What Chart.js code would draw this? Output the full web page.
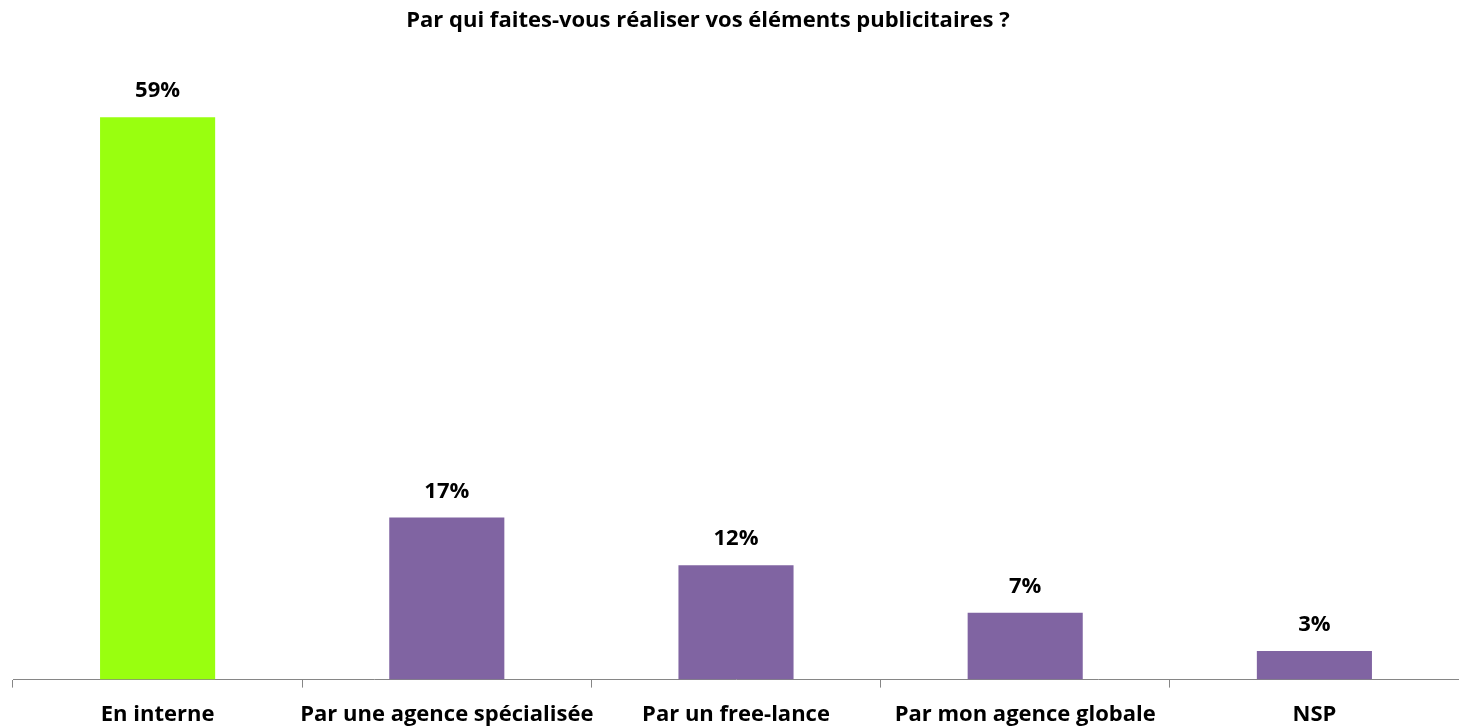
<!DOCTYPE html>
<html>
<head>
<meta charset="utf-8">
<script src="https://cdn.jsdelivr.net/npm/chart.js@4/dist/chart.umd.min.js"></script>
<style>
  html, body { margin: 0; padding: 0; background: #fff; }
  #wrap { width: 1459px; height: 727px; }
</style>
</head>
<body>
<div id="wrap"><canvas id="myChart"></canvas></div>
<script>
const titleText = "Par qui faites-vous réaliser vos éléments publicitaires ?";
const categories = ["En interne", "Par une agence spécialisée", "Par un free-lance", "Par mon agence globale", "NSP"];
const values = [59, 17, 12, 7, 3];
const barColors = ["#99FF0F", "#8064A2", "#8064A2", "#8064A2", "#8064A2"];

// titre (légèrement décalé à gauche comme dans l'original)
const topTitle = {
  id: "topTitle",
  afterDraw(chart) {
    const ctx = chart.ctx;
    ctx.save();
    ctx.font = "bold 22px 'Open Sans'";
    ctx.fillStyle = "#000";
    ctx.textAlign = "center";
    ctx.textBaseline = "alphabetic";
    ctx.fillText(titleText, 708, 27);
    ctx.restore();
  }
};

// étiquettes de valeur au-dessus des barres
const valueLabels = {
  id: "valueLabels",
  afterDatasetsDraw(chart) {
    const ctx = chart.ctx;
    const meta = chart.getDatasetMeta(0);
    ctx.save();
    ctx.font = "bold 22px 'Open Sans'";
    ctx.fillStyle = "#000";
    ctx.textAlign = "center";
    ctx.textBaseline = "alphabetic";
    meta.data.forEach((bar, i) => {
      ctx.fillText(values[i] + "%", bar.x, bar.y - 20);
    });
    ctx.restore();
  }
};

const ctx = document.getElementById("myChart");
new Chart(ctx, {
  type: "bar",
  data: {
    labels: categories,
    datasets: [{
      data: values,
      backgroundColor: barColors,
      categoryPercentage: 1,
      barPercentage: 0.398
    }]
  },
  options: {
    responsive: true,
    maintainAspectRatio: false,
    animation: false,
    devicePixelRatio: 1,
    layout: { padding: { left: 13, right: 0, top: 60, bottom: -15 } },
    plugins: {
      legend: { display: false },
      tooltip: { enabled: false },
      title: { display: false }
    },
    scales: {
      x: {
        offset: true,
        grid: {
          display: true,
          offset: true,
          drawOnChartArea: false,
          drawTicks: true,
          tickLength: 8,
          color: "#868686"
        },
        border: { display: true, color: "#868686", width: 1 },
        ticks: {
          color: "#000",
          padding: 14,
          autoSkip: false,
          maxRotation: 0,
          minRotation: 0,
          font: { family: "'Open Sans'", size: 22, weight: "bold" }
        }
      },
      y: {
        display: false,
        min: 0,
        max: 65
      }
    }
  },
  plugins: [valueLabels, topTitle]
});
</script>
</body>
</html>
